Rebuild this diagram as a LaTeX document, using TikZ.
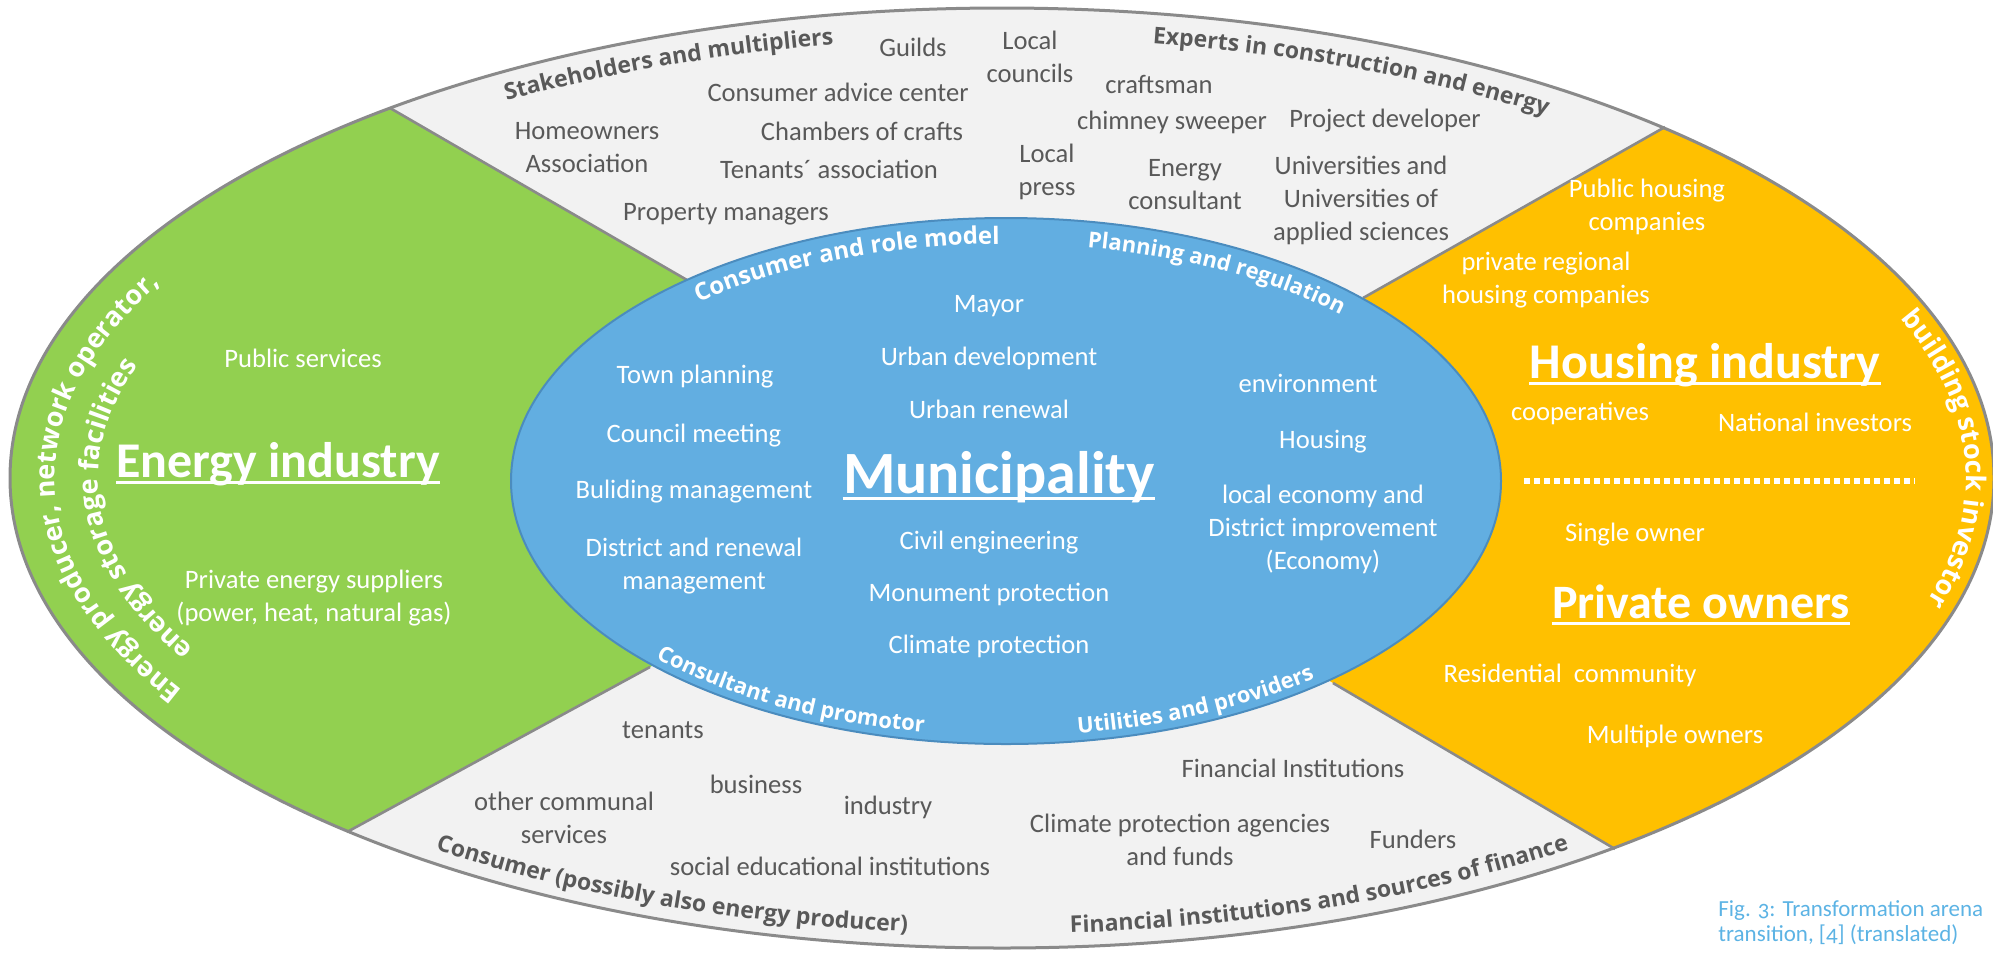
\documentclass[tikz,border=0pt]{standalone}
\usepackage{fontspec}
\setmainfont{Carlito}
\newfontfamily\arcfont{Open Sans}
\newfontfamily\capfont{Carlito}[Numbers=OldStyle]
\usetikzlibrary{decorations.text}

\definecolor{rimfill}{HTML}{F2F2F2}
\definecolor{rimdraw}{HTML}{8A8A8A}
\definecolor{energygreen}{HTML}{92D050}
\definecolor{housingorange}{HTML}{FFC000}
\definecolor{munblue}{HTML}{62AEE1}
\definecolor{mundraw}{HTML}{4B8CBE}
\definecolor{itemgrey}{HTML}{595959}
\definecolor{capblue}{HTML}{5CB3E4}

\newcommand{\itemtext}{\fontsize{13.3}{16.5}\selectfont}
\newcommand{\bigtext}{\bfseries\fontsize{25}{30}\selectfont}
\newcommand{\rimtext}{\arcfont\bfseries\fontsize{11.5}{13}\selectfont}
\newcommand{\ringtext}{\arcfont\bfseries\fontsize{11}{13}\selectfont}
\newcommand{\sidetext}{\arcfont\bfseries\fontsize{13.5}{15}\selectfont}
\newcommand{\captext}{\capfont\fontsize{11.5}{12.5}\selectfont}

\tikzstyle{item} = [inner sep=0pt, align=center, text=itemgrey, font=\itemtext]
\tikzstyle{whiteitem} = [item, text=white]
\tikzstyle{heading} = [inner sep=0pt, text=white, font=\bigtext]
\tikzstyle{headrule} = [white, line width=1.5pt]
\tikzstyle{divider} = [rimdraw, line width=1.3pt]

\begin{document}
\begin{tikzpicture}[x=0.5pt, y=0.5pt]
\useasboundingbox (0,0) rectangle (1993,-955);

\coordinate (rim) at (1002,-478);
\coordinate (mun) at (1006,-481);
\coordinate (ul_in) at (687,-280);
\coordinate (ul_out) at (390,-108);
\coordinate (ur_in) at (1363,-298);
\coordinate (ur_out) at (1665,-127);
\coordinate (ll_in) at (650,-667);
\coordinate (ll_out) at (347,-832);
\coordinate (lr_in) at (1333,-683);
\coordinate (lr_out) at (1615,-849);
\coordinate (dots_l) at (1524,-481);
\coordinate (dots_r) at (1915,-481);

\fill [rimfill] (rim) ellipse [x radius=992, y radius=470];
\begin{scope}
  \clip (rim) ellipse [x radius=992, y radius=470];
  \fill [energygreen] (ul_out) -- (ul_in) -- (mun) -- (ll_in) -- (ll_out) -- (-50,-1000) -- (-50,50) -- cycle;
  \fill [housingorange] (ur_out) -- (ur_in) -- (mun) -- (lr_in) -- (lr_out) -- (2050,-1000) -- (2050,50) -- cycle;
\end{scope}
\draw [divider] (ul_in) -- (ul_out);
\draw [divider] (ur_in) -- (ur_out);
\draw [divider] (ll_in) -- (ll_out);
\draw [divider] (lr_in) -- (lr_out);
\draw [rimdraw, line width=1.5pt] (rim) ellipse [x radius=992, y radius=470];
\draw [fill=munblue, draw=mundraw, line width=1pt] (mun) ellipse [x radius=495, y radius=263];

\node (guilds) [item] at (913,-47) {Guilds};
\node (councils) [item] at (1030,-57) {Local\\councils};
\node (advice) [item] at (838,-92) {Consumer advice center};
\node (craftsman) [item] at (1159,-84) {craftsman};
\node (homeowners) [item] at (587,-148) {Homeowners\\Association};
\node (chambers) [item] at (862,-131) {Chambers of crafts};
\node (chimney) [item] at (1172,-122) {chimney sweeper};
\node (developer) [item] at (1385,-121) {Project developer};
\node (tenants_assoc) [item] at (829,-169) {Tenants´ association};
\node (press) [item] at (1047,-172) {Local\\press};
\node (consultant) [item] at (1185,-185) {Energy\\consultant};
\node (universities) [item] at (1361,-200) {Universities and\\Universities of\\applied sciences};
\node (managers) [item] at (726,-214) {Property managers};

\node (tenants) [item] at (663,-730) {tenants};
\node (business) [item] at (756,-784) {business};
\node (communal) [item] at (564,-818) {other communal\\services};
\node (industry) [item] at (888,-807) {industry};
\node (fin_inst) [item] at (1293,-768) {Financial Institutions};
\node (agencies) [item] at (1180,-840) {Climate protection agencies\\and funds};
\node (funders) [item] at (1413,-839) {Funders};
\node (social) [item] at (830,-866) {social educational institutions};

\node (mayor) [whiteitem] at (989,-306) {Mayor};
\node (urban_dev) [whiteitem] at (989,-358) {Urban development};
\node (town) [whiteitem] at (695,-377) {Town planning};
\node (environment) [whiteitem] at (1308,-383) {environment};
\node (renewal) [whiteitem] at (989,-409) {Urban renewal};
\node (council) [whiteitem] at (694,-436) {Council meeting};
\node (housing) [whiteitem] at (1323,-442) {Housing};
\node (bldg_mgmt) [whiteitem] at (694,-492) {Buliding management};
\node (economy) [whiteitem] at (1323,-529) {local economy and\\District improvement\\(Economy)};
\node (district) [whiteitem] at (694,-566) {District and renewal\\management};
\node (civil) [whiteitem] at (989,-543) {Civil engineering};
\node (monument) [whiteitem] at (989,-594) {Monument protection};
\node (climate) [whiteitem] at (989,-646) {Climate protection};
\node (municipality) [heading, font=\bfseries\fontsize{30}{36}\selectfont] at (999,-477) {Municipality};

\node (public_serv) [whiteitem] at (303,-358) {Public services};
\node (energy) [heading] at (278,-464) {Energy industry};
\node (suppliers) [whiteitem] at (314,-598) {Private energy suppliers\\(power, heat, natural gas)};

\node (public_housing) [whiteitem] at (1647,-207) {Public housing\\companies};
\node (regional) [whiteitem] at (1546,-280) {private regional\\housing companies};
\node (housing_ind) [heading] at (1705,-365) {Housing industry};
\node (cooperatives) [whiteitem] at (1580,-413) {cooperatives};
\node (national) [whiteitem] at (1815,-422) {National investors};
\node (single) [whiteitem] at (1635,-535) {Single owner};
\node (private) [heading, font=\bfseries\fontsize{24}{29}\selectfont] at (1701,-602) {Private owners};
\node (residential) [whiteitem] at (1570,-675) {Residential~~community};
\node (multiple) [whiteitem] at (1675,-736) {Multiple owners};

\draw [headrule] ([yshift=-2.5pt]municipality.base west) -- ([yshift=-2.5pt]municipality.base east);
\draw [headrule] ([yshift=-2.5pt]energy.base west) -- ([yshift=-2.5pt]energy.base east);
\draw [headrule] ([yshift=-2.5pt]housing_ind.base west) -- ([yshift=-2.5pt]housing_ind.base east);
\draw [headrule] ([yshift=-2.5pt]private.base west) -- ([yshift=-2.5pt]private.base east);
\draw [white, line width=2.8pt, dash pattern=on 3pt off 2pt] (dots_l) -- (dots_r);

\path [decorate, decoration={text along path, text={|\rimtext\color{itemgrey}|Stakeholders and multipliers}}]
  ([shift={(rim)}]121:962 and 440) arc [start angle=121, end angle=60, x radius=962, y radius=440];
\path [decorate, decoration={text along path, text={|\rimtext\color{itemgrey}|Experts in construction and energy}}]
  ([shift={(rim)}]81:962 and 440) arc [start angle=81, end angle=20, x radius=962, y radius=440];
\path [decorate, decoration={text along path, text={|\rimtext\color{itemgrey}|Consumer (possibly also energy producer)}}]
  ([shift={(rim)}]234.6:978 and 456) arc [start angle=234.6, end angle=300, x radius=978, y radius=456];
\path [decorate, decoration={text along path, text={|\rimtext\color{itemgrey}|Financial institutions and sources of finance}}]
  ([shift={(rim)}]274:978 and 456) arc [start angle=274, end angle=340, x radius=978, y radius=456];

\path [decorate, decoration={text along path, text={|\arcfont\bfseries\fontsize{12}{14}\selectfont\color{white}|Consumer and role model}}]
  ([shift={(mun)}]131:469 and 237) arc [start angle=131, end angle=60, x radius=469, y radius=237];
\path [decorate, decoration={text along path, text={|\ringtext\color{white}|Planning and regulation}}]
  ([shift={(mun)}]80:469 and 237) arc [start angle=80, end angle=10, x radius=469, y radius=237];
\path [decorate, decoration={text along path, text={|\ringtext\color{white}|Consultant and promotor}}]
  ([shift={(mun)}]224:487 and 255) arc [start angle=224, end angle=300, x radius=487, y radius=255];
\path [decorate, decoration={text along path, text={|\ringtext\color{white}|Utilities and providers}}]
  ([shift={(mun)}]278.5:487 and 255) arc [start angle=278.5, end angle=350, x radius=487, y radius=255];

\path [decorate, decoration={text along path, text align=center, text={|\sidetext\color{white}|Energy producer, network operator,}}]
  ([shift={(rim)}]236:947 and 425) arc [start angle=236, end angle=126, x radius=947, y radius=425];
\path [decorate, decoration={text along path, text align=center, text={|\sidetext\color{white}|energy storage facilities}}]
  ([shift={(rim)}]238:904 and 382) arc [start angle=238, end angle=128, x radius=904, y radius=382];
\path [decorate, decoration={text along path, text align=center, text={|\sidetext\color{white}|building stock investor}}]
  ([shift={(rim)}]51.6:964 and 440) arc [start angle=51.6, end angle=-48.4, x radius=964, y radius=440];

\node (caption) [anchor=west, align=left, inner sep=0pt, text=capblue, font=\captext] at (1718,-923) {Fig. 3: Transformation arena\\transition, [4] (translated)};
\end{tikzpicture}
\end{document}
